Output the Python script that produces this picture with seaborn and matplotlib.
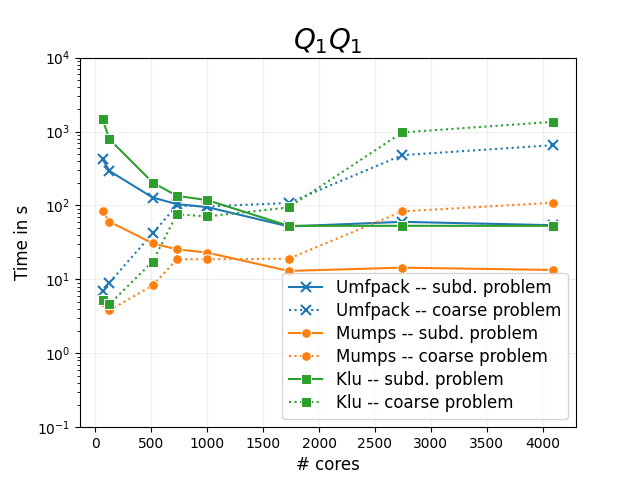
import pandas as pd
import matplotlib
matplotlib.use("Agg")
import matplotlib.pyplot as plt
import seaborn as sns

# core counts
cores = [64, 125, 512, 729, 1000, 1728, 2744, 4096]

# timings (s)
umfpack_subd = [423, 293, 128, 104, 95, 52, 60, 54]
umfpack_coarse = [6.9, 9.0, 42, 100, 97, 108, 479, 654]
mumps_subd = [83, 60.5, 30.7, 25.5, 23, 13.0, 14.4, 13.4]
mumps_coarse = [5.0, 3.8, 8.3, 18.7, 18.7, 19, 83, 109]
klu_subd = [1472, 789, 204, 135, 118, 53, 53, 53]
klu_coarse = [5.2, 4.6, 17.4, 76, 71, 94, 972, 1353]

series = [
    ("Umfpack -- subd. problem", umfpack_subd, "C0", "-", "x"),
    ("Umfpack -- coarse problem", umfpack_coarse, "C0", ":", "x"),
    ("Mumps -- subd. problem", mumps_subd, "C1", "-", "o"),
    ("Mumps -- coarse problem", mumps_coarse, "C1", ":", "o"),
    ("Klu -- subd. problem", klu_subd, "C2", "-", "s"),
    ("Klu -- coarse problem", klu_coarse, "C2", ":", "s"),
]

fig, ax = plt.subplots(figsize=(6.4, 4.8), dpi=100)

for label, vals, color, ls, mk in series:
    df = pd.DataFrame({"cores": cores, "time": vals})
    edge = color if mk == "x" else "w"
    sns.lineplot(data=df, x="cores", y="time", ax=ax, color=color,
                 linestyle=ls, marker=mk, markersize=7, label=label,
                 linewidth=1.5, markeredgecolor=edge,
                 markeredgewidth=1.5 if mk == "x" else 0.75)

ax.set_yscale("log")
ax.set_ylim(1e-1, 1e4)
ax.set_xticks(range(0, 4001, 500))
ax.grid(True, which="major", alpha=0.2)
ax.set_title("$Q_1Q_1$", fontsize=20)
ax.set_xlabel("# cores", fontsize=12)
ax.set_ylabel("Time in s", fontsize=12)
ax.legend(loc="lower right", fontsize=12, labelspacing=0.3)

plt.savefig("out.png", dpi=100)
